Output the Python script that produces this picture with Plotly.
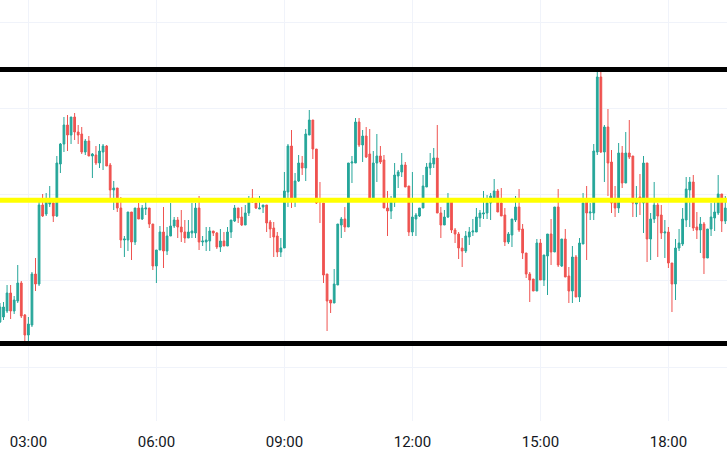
import pandas as pd
import plotly.graph_objects as go

# 5-minute candles, 02:20 -> 19:20
START = "2024-03-12 02:20"
N_CANDLES = 205

# prices expressed in points (0.00001) above BASE
BASE = 1.08000
POINT = 0.00001

open_pts = [78, 83, 89, 107, 89, 99, 117, 85, 65, 75, 126, 116, 195, 186, 196, 197, 184, 236, 256, 275,
            265, 283, 268, 266, 248, 259, 244, 245, 237, 248, 254, 235, 210, 212, 192, 160, 160, 188, 158, 192,
            181, 191, 192, 176, 134, 150, 168, 149, 164, 174, 180, 173, 168, 162, 167, 167, 192, 158, 158, 159,
            169, 167, 153, 159, 154, 168, 179, 192, 183, 175, 187, 202, 197, 191, 193, 195, 178, 172, 164, 148,
            152, 208, 254, 202, 219, 237, 232, 265, 280, 251, 201, 197, 126, 100, 97, 115, 175, 181, 173, 237,
            237, 278, 255, 264, 246, 202, 237, 244, 240, 192, 189, 198, 224, 228, 235, 214, 168, 181, 184, 192,
            213, 232, 236, 242, 187, 175, 183, 198, 170, 166, 152, 149, 163, 168, 168, 182, 186, 187, 197, 202,
            209, 197, 185, 158, 165, 180, 193, 171, 147, 126, 121, 109, 157, 120, 144, 166, 148, 193, 134, 161,
            124, 109, 143, 103, 156, 200, 187, 187, 248, 323, 248, 273, 238, 200, 192, 247, 217, 247, 244, 196,
            203, 197, 237, 161, 181, 195, 185, 167, 168, 137, 116, 152, 156, 180, 210, 218, 173, 170, 176, 142,
            171, 182, 187, 206, 179]
high_pts = [97, 98, 115, 115, 104, 135, 119, 86, 83, 128, 142, 198, 206, 207, 214, 202, 244, 257, 283, 285,
            283, 287, 275, 273, 261, 264, 247, 254, 256, 256, 255, 237, 219, 212, 203, 164, 188, 188, 192, 197,
            195, 198, 192, 176, 150, 174, 193, 173, 197, 183, 183, 190, 180, 180, 197, 197, 204, 164, 173, 173,
            169, 168, 171, 168, 173, 180, 195, 192, 193, 195, 204, 211, 197, 204, 195, 195, 180, 178, 168, 162,
            228, 256, 270, 227, 245, 244, 271, 290, 280, 251, 218, 197, 126, 100, 131, 176, 183, 193, 237, 244,
            282, 282, 270, 273, 271, 249, 266, 254, 245, 209, 204, 237, 230, 247, 238, 214, 228, 187, 192, 225,
            237, 247, 252, 275, 193, 190, 207, 198, 172, 168, 162, 169, 173, 181, 192, 190, 209, 205, 207, 221,
            211, 212, 192, 168, 181, 204, 211, 176, 147, 128, 121, 161, 161, 145, 166, 181, 193, 211, 161, 171,
            133, 154, 145, 162, 207, 214, 197, 256, 328, 329, 275, 291, 250, 214, 257, 254, 268, 280, 244, 214,
            226, 244, 237, 187, 218, 197, 195, 180, 173, 137, 161, 171, 192, 223, 223, 225, 188, 183, 178, 171,
            197, 200, 225, 206, 204]
low_pts = [77, 80, 87, 81, 86, 97, 82, 59, 59, 73, 109, 114, 183, 184, 193, 178, 183, 227, 248, 249,
           256, 260, 256, 246, 245, 244, 222, 235, 232, 230, 234, 202, 190, 188, 152, 143, 149, 140, 155, 181,
           180, 185, 172, 130, 117, 150, 132, 145, 164, 172, 162, 158, 157, 162, 162, 162, 150, 154, 149, 149,
           164, 151, 148, 154, 154, 162, 178, 177, 174, 175, 184, 197, 191, 191, 187, 168, 162, 143, 143, 143,
           152, 193, 192, 193, 218, 225, 219, 265, 241, 196, 177, 117, 69, 87, 97, 115, 162, 168, 173, 217,
           237, 253, 238, 242, 201, 201, 218, 236, 192, 164, 181, 193, 212, 223, 213, 164, 164, 164, 183, 192,
           213, 225, 232, 187, 162, 175, 182, 167, 157, 141, 133, 147, 155, 164, 168, 173, 181, 181, 180, 202,
           188, 184, 154, 156, 153, 178, 168, 141, 122, 98, 109, 109, 120, 114, 105, 135, 148, 133, 133, 123,
           97, 97, 103, 98, 156, 140, 180, 180, 245, 247, 218, 204, 187, 183, 187, 212, 217, 241, 183, 183,
           185, 167, 138, 140, 177, 143, 161, 142, 132, 88, 100, 149, 154, 173, 173, 169, 161, 147, 126, 142,
           164, 169, 185, 168, 176]
close_pts = [93, 93, 107, 89, 100, 117, 84, 65, 76, 126, 116, 195, 184, 199, 201, 184, 237, 256, 275, 265,
             283, 268, 265, 248, 259, 244, 246, 237, 249, 254, 234, 210, 212, 192, 160, 161, 188, 158, 192, 181,
             192, 192, 176, 134, 150, 168, 149, 164, 174, 180, 173, 168, 162, 168, 169, 192, 158, 159, 160, 169,
             167, 153, 159, 154, 168, 180, 192, 182, 175, 187, 198, 198, 192, 192, 195, 177, 171, 163, 148, 152,
             209, 254, 202, 219, 237, 232, 266, 280, 251, 197, 198, 125, 99, 97, 116, 176, 181, 173, 237, 238,
             278, 255, 264, 243, 202, 237, 244, 238, 192, 189, 198, 225, 228, 235, 213, 168, 183, 185, 192, 214,
             233, 237, 242, 187, 175, 183, 198, 170, 166, 152, 149, 164, 168, 169, 183, 187, 187, 197, 204, 209,
             188, 184, 158, 166, 181, 193, 170, 147, 126, 120, 109, 157, 120, 145, 166, 148, 193, 135, 161, 123,
             109, 143, 103, 157, 197, 187, 188, 249, 323, 248, 273, 237, 197, 192, 247, 217, 247, 243, 197, 199,
             198, 237, 161, 181, 195, 184, 167, 168, 137, 116, 152, 157, 181, 211, 218, 172, 170, 176, 142, 171,
             183, 188, 206, 179, 192]

# horizontal levels (points above BASE)
RESISTANCE_PTS = 330.5
PIVOT_PTS = 199.8
SUPPORT_PTS = 56.5

# axis window
X_RANGE = ["2024-03-12 02:20:04", "2024-03-12 19:22:24"]
Y_RANGE_PTS = [-21, 400]
GRID_START_PTS = 33
GRID_STEP_PTS = 86.2

UP = "#26a69a"
DOWN = "#ef5350"
GRID = "#f0f3fa"

times = pd.date_range(START, periods=N_CANDLES, freq="5min")


def px(vals):
    return [round(BASE + v * POINT, 5) for v in vals]


fig = go.Figure(go.Candlestick(
    x=times,
    open=px(open_pts), high=px(high_pts), low=px(low_pts), close=px(close_pts),
    increasing=dict(line=dict(color=UP, width=1), fillcolor=UP),
    decreasing=dict(line=dict(color=DOWN, width=1), fillcolor=DOWN),
    hoverinfo="skip",
))

for lvl, col in [(RESISTANCE_PTS, "#000000"), (SUPPORT_PTS, "#000000"), (PIVOT_PTS, "#ffff00")]:
    y = BASE + lvl * POINT
    fig.add_shape(type="line", xref="paper", x0=0, x1=1, yref="y", y0=y, y1=y,
                  line=dict(color=col, width=5), layer="above")

fig.update_layout(
    width=727, height=456,
    margin=dict(l=0, r=0, t=0, b=35),
    paper_bgcolor="white", plot_bgcolor="white",
    showlegend=False,
    font=dict(family="Roboto", size=15, color="#131722"),
    xaxis=dict(
        type="date", range=X_RANGE, rangeslider=dict(visible=False),
        tickformat="%H:%M", dtick=3 * 3600 * 1000, tick0="2024-03-12 00:00",
        showgrid=True, gridcolor=GRID, gridwidth=1, zeroline=False,
        ticks="", showline=False, fixedrange=True, ticklabelstandoff=10,
    ),
    yaxis=dict(
        range=[BASE + Y_RANGE_PTS[0] * POINT, BASE + Y_RANGE_PTS[1] * POINT],
        tick0=BASE + GRID_START_PTS * POINT, dtick=GRID_STEP_PTS * POINT,
        showgrid=True, gridcolor=GRID, gridwidth=1, zeroline=False,
        showticklabels=False, ticks="", showline=False, fixedrange=True,
    ),
)

fig.write_html(
    "out.html",
    config={"displayModeBar": False},
    post_script="document.body.style.margin='0';document.body.style.padding='0';",
)
